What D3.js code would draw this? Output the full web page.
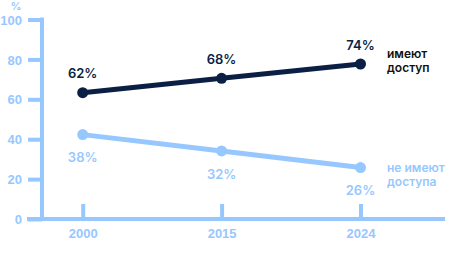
<!DOCTYPE html>
<html>
<head>
<meta charset="utf-8">
<script src="https://cdn.jsdelivr.net/npm/d3@7"></script>
<style>
	body { margin: 0; background: #fff; }
	svg { display: block; font-family: Inter, "Noto Sans", sans-serif; }
	.axis text { fill: #96c8ff; font-size: 13px; font-weight: 600; }
	.axis line, .axis path { stroke: #96c8ff; stroke-width: 4; }
</style>
</head>
<body>
<script>
// data
var years = ['2000', '2015', '2024'];
var haveAccess = [63.3, 70.5, 77.7];      // plotted position
var haveAccessLabels = ['62%', '68%', '74%'];
var noAccess = [42.3, 34.1, 25.8];
var noAccessLabels = ['38%', '32%', '26%'];
var yTicks = [0, 20, 40, 60, 80, 100];

var width = 450, height = 276;
var navy = '#0b1f45', light = '#96c8ff';

var svg = d3.select('body').append('svg')
	.attr('width', width)
	.attr('height', height);

var x = d3.scalePoint()
	.domain(years)
	.range([82.7, 360.5]);
var y = d3.scaleLinear()
	.domain([0, 100])
	.range([219, 19.5]);

// y axis
var yAxis = svg.append('g')
	.attr('class', 'axis')
	.attr('transform', 'translate(42,0)')
	.call(d3.axisLeft(y).tickValues(yTicks).tickSize(14).tickSizeOuter(0).tickPadding(6));
yAxis.select('.domain').attr('d', 'M0,' + (y(100) - 2) + 'V' + y(0));
yAxis.selectAll('text').attr('dy', '0.36em');

svg.append('text')
	.attr('x', 16)
	.attr('y', 10)
	.attr('text-anchor', 'middle')
	.attr('fill', light)
	.style('font-size', '11px')
	.style('font-weight', 600)
	.text('%');

// x axis
var xAxis = svg.append('g')
	.attr('class', 'axis')
	.attr('transform', 'translate(0,' + y(0) + ')')
	.call(d3.axisBottom(x).tickSize(-15).tickSizeOuter(0).tickPadding(9.5));
xAxis.select('.domain').attr('d', 'M27,0H445');

// lines
var line = d3.line()
	.x(function(d, i) { return x(years[i]); })
	.y(function(d) { return y(d); });

function drawSeries(values, labels, color, dy) {
	svg.append('path')
		.datum(values)
		.attr('fill', 'none')
		.attr('stroke', color)
		.attr('stroke-width', 5)
		.attr('d', line);
	svg.selectAll(null)
		.data(values)
		.enter().append('circle')
		.attr('cx', function(d, i) { return x(years[i]); })
		.attr('cy', function(d) { return y(d); })
		.attr('r', 5.5)
		.attr('fill', color);
	svg.selectAll(null)
		.data(values)
		.enter().append('text')
		.attr('x', function(d, i) { return x(years[i]); })
		.attr('y', function(d) { return y(d) + dy; })
		.attr('dy', '0.36em')
		.attr('text-anchor', 'middle')
		.attr('fill', color)
		.style('font-size', '13px')
		.style('font-weight', 600)
		.text(function(d, i) { return labels[i]; });
}

drawSeries(haveAccess, haveAccessLabels, navy, -19);
drawSeries(noAccess, noAccessLabels, light, 23);

// series names, one text per line
function seriesName(lines, yPos, color) {
	lines.forEach(function(s, i) {
		svg.append('text')
			.attr('x', 387)
			.attr('y', yPos + i * 14)
			.attr('dy', '0.36em')
			.attr('fill', color)
			.style('font-size', '12px')
			.style('font-weight', 600)
			.text(s);
	});
}
seriesName(['имеют', 'доступ'], 54, '#111');
seriesName(['не имеют', 'доступа'], 168, light);
</script>
</body>
</html>
